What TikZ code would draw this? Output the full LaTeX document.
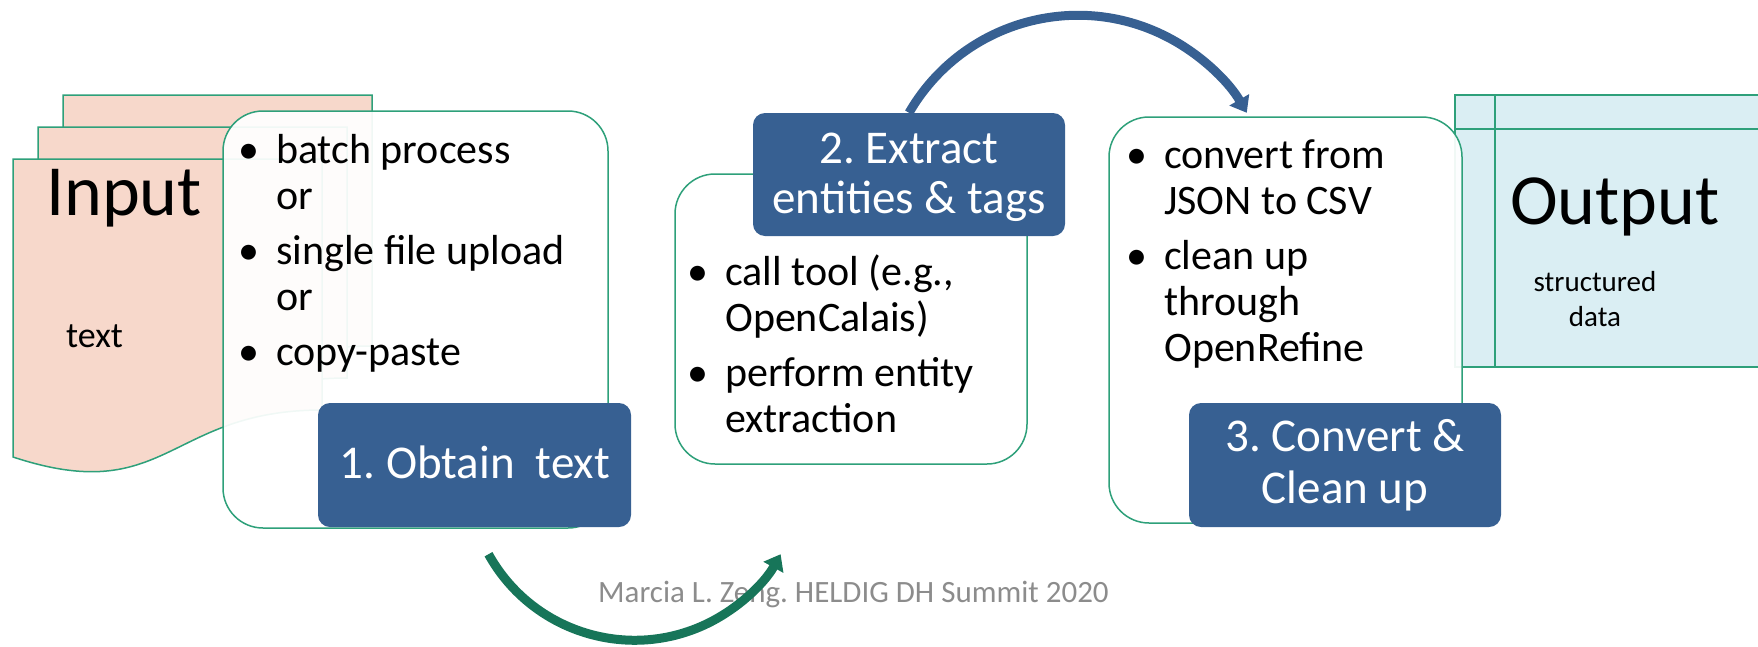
\documentclass[tikz,border=0pt]{standalone}
\usepackage{fontspec}
\setmainfont{Carlito}
\usetikzlibrary{arrows.meta}
\frenchspacing
\definecolor{boxblue}{RGB}{55,96,146}
\definecolor{boxgreen}{RGB}{46,160,122}
\definecolor{arrowgreen}{RGB}{23,117,89}
\definecolor{pagefill}{RGB}{247,216,203}
\definecolor{tablefill}{RGB}{218,238,243}
\definecolor{footgray}{RGB}{140,140,140}
\newcommand\mybul{\makebox[54pt]{•}}
\tikzset{
  docpage/.style={fill=pagefill, draw=boxgreen, line width=1.5pt},
  pics/pagedoc/.style={code={
    \path[docpage] (0,0) -- (309,0) -- (309,251)
      .. controls (154.5,251) and (154.5,349) .. (0,298) -- cycle;}},
  whitebox/.style={draw=boxgreen, line width=1.5pt, fill=white, fill opacity=0.93,
    draw opacity=1, rounded corners=40pt, inner sep=0pt},
  bluebox/.style={fill=boxblue, draw=none, rounded corners=12pt, inner sep=0pt},
  bluetext/.style={text=white, font=\fontsize{47}{50}\selectfont, inner sep=0pt},
  listtext/.style={font=\fontsize{42}{46}\selectfont, inner sep=0pt, anchor=base west},
  bigtitle/.style={font=\fontsize{72}{80}\selectfont, inner sep=0pt, anchor=base west},
  bluearrow/.style={draw=boxblue, line width=9pt, -{Triangle[width=22pt,length=15pt]}},
  greenarrow/.style={draw=arrowgreen, line width=9pt, -{Triangle[width=22pt,length=15pt]}},
  footer/.style={text=footgray, font=\fontsize{31}{36}\selectfont, inner sep=0pt, anchor=base west}
}
\begin{document}
\frenchspacing
\begin{tikzpicture}[x=1pt,y=-1pt]
\useasboundingbox (0,0) rectangle (1758,646);
\clip (0,0) rectangle (1758,646);

% input pages
\pic (pg3) at (63,95) {pagedoc};
\pic (pg2) at (38,127) {pagedoc};
\pic (pg1) at (13,159) {pagedoc};

% output table
\path[fill=tablefill, draw=boxgreen, line width=1.5pt] (1455,95) rectangle (1790,367);
\draw[boxgreen, line width=1.5pt] (1455,129) -- (1790,129);
\draw[boxgreen, line width=1.5pt] (1495,95) -- (1495,367);

% white boxes
\node[whitebox, minimum width=385pt, minimum height=417pt] (w1) at (415.5,319.5) {};
\node[whitebox, minimum width=352pt, minimum height=290pt] (w2) at (851,319) {};
\node[whitebox, minimum width=353pt, minimum height=406pt] (w3) at (1285.5,320) {};

% blue boxes
\node[bluebox, minimum width=313pt, minimum height=124pt] (b1) at (474.5,465) {};
\node[bluebox, minimum width=312pt, minimum height=123pt] (b2) at (909,174.5) {};
\node[bluebox, minimum width=312pt, minimum height=124pt] (b3) at (1345,465) {};

% blue box labels
\node[bluetext, anchor=base] (t1) at (475,478) {1. Obtain\ \ text};
\node[bluetext, anchor=base] (t2) at (909,163) {\begin{tabular}[t]{@{}c@{}}2. Extract\\ entities \& tags\end{tabular}};
\node[bluetext, anchor=base, font=\fontsize{47}{52}\selectfont] (t3) at (1345,451) {\begin{tabular}[t]{@{}c@{}}3. Convert \&\\ Clean up\end{tabular}};

% bullet lists
\node[listtext] (l1) at (222,163) {\begin{tabular}[t]{@{}c@{}l@{}}
  \mybul & batch process\\ & or\\[9pt]
  \mybul & single file upload\\ & or\\[9pt]
  \mybul & copy-paste\end{tabular}};
\node[listtext] (l2) at (671,285) {\begin{tabular}[t]{@{}c@{}l@{}}
  \mybul & call tool (e.g.,\\ & OpenCalais)\\[9pt]
  \mybul & perform entity\\ & extraction\end{tabular}};
\node[listtext] (l3) at (1110,168) {\begin{tabular}[t]{@{}c@{}l@{}}
  \mybul & convert from\\ & JSON to CSV\\[9pt]
  \mybul & clean up\\ & through\\ & OpenRefine\end{tabular}};

% input / output titles
\node[bigtitle] (inp) at (46,215) {Input};
\node[font=\fontsize{36}{40}\selectfont, inner sep=0pt, anchor=base west] (inpt) at (66,347) {text};
\node[bigtitle] (outp) at (1510,224) {Output};
\node[font=\fontsize{29}{35}\selectfont, inner sep=0pt, anchor=base] (outt) at (1595,291)
  {\begin{tabular}[t]{@{}c@{}}structured\\ data\end{tabular}};

% footer
\node[footer] (ft) at (598,602) {Marcia L. Zeng. HELDIG DH Summit 2020};

% connectors
\draw[bluearrow] (b2.north) arc[start angle=-150, end angle=-30, radius=195];
\coordinate (g0) at ([xshift=14pt,yshift=-27pt]b1.south);
\draw[greenarrow] (g0) arc[start angle=151, end angle=29, radius=167];
\end{tikzpicture}
\end{document}
